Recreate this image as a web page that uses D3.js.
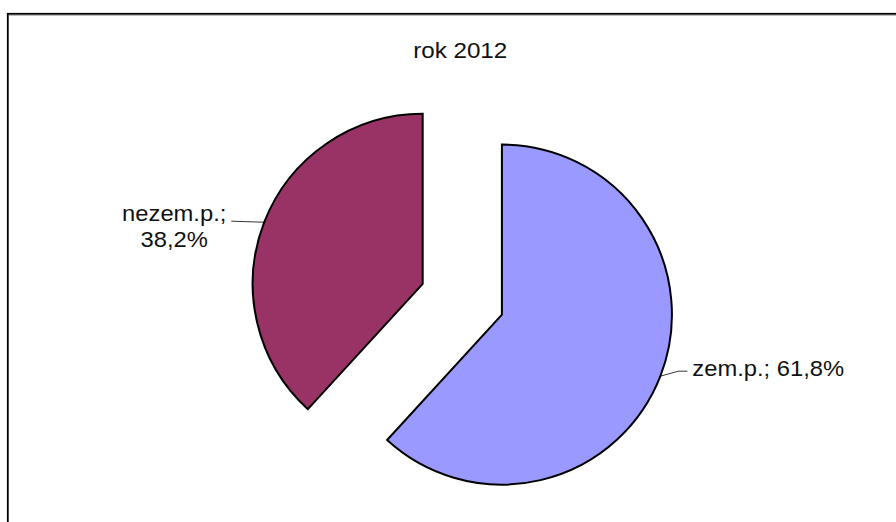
<!DOCTYPE html>
<html>
<head>
	<title>rok 2012</title>
	<script src="https://d3js.org/d3.v7.min.js" charset="utf-8"></script>
	<style>
		body { margin: 0; background: #fff; }
		text { font-family: "Liberation Sans", Arial, sans-serif; fill: #111; }
	</style>
</head>
<body>
	<svg width="896" height="522"></svg>
	<script>
		// data
		const titleText = "rok 2012";
		const categories = ["zem.p.", "nezem.p."];
		const shares = [61.8, 38.2];
		const colors = ["#9999ff", "#993366"];

		const cx = 462.3, cy = 299.2;
		const radius = 170;
		const explode = 42.5;
		const stretch = 1.08; // text in the original is a bit wide

		const svg = d3.select('svg');

		// frame with light shadow
		svg.append('line').attr('x1', 9).attr('x2', 896).attr('y1', 15.5).attr('y2', 15.5)
			.attr('stroke', '#bbb').attr('stroke-width', 1);
		svg.append('rect')
			.attr('x', 7.8).attr('y', 13.8)
			.attr('width', 900).attr('height', 520)
			.attr('fill', 'none').attr('stroke', '#000').attr('stroke-width', 1.8);

		svg.append('text')
			.attr('transform', `translate(460.2, 58.3) scale(${stretch + 0.02},1)`)
			.attr('text-anchor', 'middle')
			.style('font-size', '22px')
			.text(titleText);

		const pie = d3.pie().sort(null).value(d => d);
		const arcs = pie(shares);
		const arc = d3.arc().innerRadius(0).outerRadius(radius);

		const chart = svg.append('g').attr('transform', `translate(${cx}, ${cy})`);

		function offset(d) {
			const a = (d.startAngle + d.endAngle) / 2;
			return [Math.sin(a) * explode, -Math.cos(a) * explode];
		}

		chart.selectAll('path.slice')
			.data(arcs)
			.enter()
			.append('path')
			.attr('class', 'slice')
			.attr('transform', d => `translate(${offset(d)})`)
			.attr('d', arc)
			.attr('fill', (d, i) => colors[i])
			.attr('stroke', '#000')
			.attr('stroke-width', 2)
			.attr('stroke-linejoin', 'miter');

		// leader lines and labels
		const fmt = v => d3.format('.1f')(v).replace('.', ',') + '%';

		arcs.forEach(function (d, i) {
			const a = (d.startAngle + d.endAngle) / 2;
			const o = offset(d);
			const px = o[0] + Math.sin(a) * radius;
			const py = o[1] - Math.cos(a) * radius;
			const g = chart.append('g');
			if (Math.sin(a) > 0) {
				// right side label, single line
				g.append('polyline')
					.attr('points', [[px, py], [px + 18, py - 5], [px + 27, py - 5]].join(' '))
					.attr('fill', 'none').attr('stroke', '#000').attr('stroke-width', 0.8);
				g.append('text')
					.attr('transform', `translate(${px + 32}, ${py - 0.5}) scale(${stretch},1)`)
					.style('font-size', '22px')
					.text(categories[i] + '; ' + fmt(shares[i]));
			} else {
				// left side label, two lines
				g.append('line')
					.attr('x1', px).attr('y1', py)
					.attr('x2', px - 33).attr('y2', py - 1)
					.attr('stroke', '#000').attr('stroke-width', 0.8);
				const t = g.append('text')
					.attr('transform', `translate(${px - 90}, ${py - 0.8}) scale(${stretch},1)`)
					.attr('text-anchor', 'middle')
					.style('font-size', '22px');
				t.append('tspan').attr('x', 0).attr('y', 0).text(categories[i] + ';');
				t.append('tspan').attr('x', 0).attr('y', 26).text(fmt(shares[i]));
			}
		});
	</script>
</body>
</html>
